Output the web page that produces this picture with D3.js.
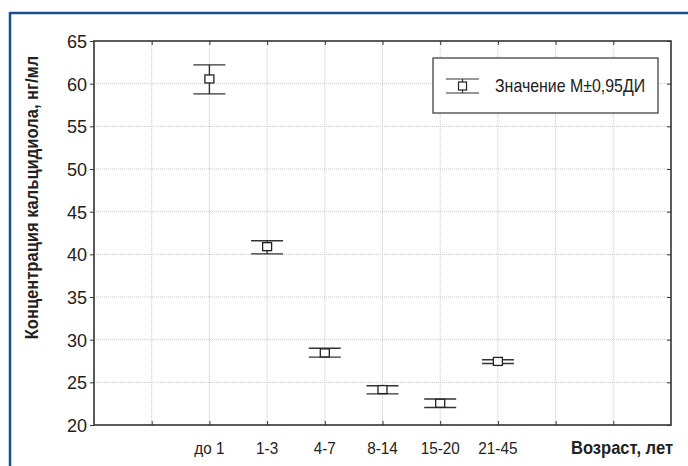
<!DOCTYPE html>
<html>
<head>
<meta charset="utf-8">
<script src="https://cdn.jsdelivr.net/npm/d3@7"></script>
<style>
  body { margin: 0; background: #fff; }
  svg text { font-family: "Liberation Sans", Arial, sans-serif; fill: #222; }
</style>
</head>
<body>
<div id="chart"></div>
<script>
// age groups and calcidiol values (ng/ml): mean with 95% CI
const groups = ["до 1", "1-3", "4-7", "8-14", "15-20", "21-45"];
const means  = [60.55, 40.9, 28.45, 24.15, 22.55, 27.45];
const lower  = [58.8, 40.05, 27.95, 23.65, 22.05, 27.2];
const upper  = [62.2, 41.6, 29.0, 24.6, 23.05, 27.65];
const yTicks = [20, 25, 30, 35, 40, 45, 50, 55, 60, 65];

const w = 688, h = 466;
const margin = { top: 41, right: 17, bottom: 41, left: 94 };

const svg = d3.select("#chart").append("svg")
  .attr("width", w)
  .attr("height", h);

// narrow text: place at (tx,ty) and squeeze horizontally
function label(parent, tx, ty, txt, size, k, anchor, rot) {
  return parent.append("text")
    .attr("transform", `translate(${tx},${ty}) rotate(${rot || 0}) scale(${k},1)`)
    .attr("text-anchor", anchor || "start")
    .attr("font-size", size)
    .text(txt);
}

// blue frame
const blue = "#1c4f90";
svg.append("line").attr("x1", 10).attr("x2", w).attr("y1", 13).attr("y2", 13).attr("stroke", blue).attr("stroke-width", 2.5);
svg.append("line").attr("x1", 10).attr("x2", 10).attr("y1", 12).attr("y2", h).attr("stroke", blue).attr("stroke-width", 2.5);

// categories sit on positions 2..7 of an 0..10 axis
const x = d3.scaleLinear().domain([0, 10]).range([margin.left, w - margin.right]),
      y = d3.scaleLinear().domain([20, 65]).range([h - margin.bottom, margin.top]);
const xPos = (d, i) => x(i + 2);

// grid
svg.append("g").selectAll("line")
  .data(d3.range(1, 10))
  .enter().append("line")
  .attr("x1", d => x(d)).attr("x2", d => x(d))
  .attr("y1", y(20)).attr("y2", y(65))
  .attr("stroke", "#c8c8c8").attr("stroke-dasharray", "1,1");
svg.append("g").selectAll("line")
  .data(yTicks.slice(1, -1))
  .enter().append("line")
  .attr("x1", x(0)).attr("x2", x(10))
  .attr("y1", d => y(d)).attr("y2", d => y(d))
  .attr("stroke", "#c8c8c8").attr("stroke-dasharray", "1,1");

// axes: left with labels, others as frame with inner ticks
svg.append("g").attr("transform", `translate(${x(0)},0)`)
  .call(d3.axisLeft(y).tickValues(yTicks).tickSize(4).tickPadding(3))
  .call(g => g.select(".domain").remove())
  .call(g => g.selectAll("line").attr("stroke", "#333"))
  .call(g => g.selectAll("text").attr("font-size", 18).attr("font-family", "Liberation Sans").attr("dy", "0.36em"));

svg.append("g").attr("transform", `translate(${x(10)},0)`)
  .call(d3.axisLeft(y).tickValues(yTicks).tickSize(4).tickFormat(""))
  .call(g => g.select(".domain").remove())
  .call(g => g.selectAll("line").attr("stroke", "#333"));

svg.append("g").attr("transform", `translate(0,${y(20)})`)
  .call(d3.axisBottom(x).tickValues(d3.range(1, 10)).tickSize(-4).tickFormat(""))
  .call(g => g.select(".domain").remove())
  .call(g => g.selectAll("line").attr("stroke", "#333"));

svg.append("g").attr("transform", `translate(0,${y(65)})`)
  .call(d3.axisTop(x).tickValues(d3.range(1, 10)).tickSize(-4).tickFormat(""))
  .call(g => g.select(".domain").remove())
  .call(g => g.selectAll("line").attr("stroke", "#333"));

svg.append("rect")
  .attr("x", x(0)).attr("y", y(65))
  .attr("width", x(10) - x(0)).attr("height", y(20) - y(65))
  .attr("fill", "none").attr("stroke", "#333").attr("stroke-width", 1.6);

// category labels
const xl = svg.append("g");
groups.forEach((g, i) => label(xl, xPos(g, i), h - 12, g, 17, 0.9, "middle"));

// axis titles
label(svg, w - 15, h - 12, "Возраст, лет", 18, 0.92, "end").attr("font-weight", "bold");
label(svg, 38, 197.5, "Концентрация кальцидиола, нг/мл", 18, 0.92, "middle", -90).attr("font-weight", "bold");

// whiskers
const cap = 32;
const marks = svg.append("g").selectAll("g")
  .data(groups)
  .enter().append("g");
marks.append("line")
  .attr("x1", xPos).attr("x2", xPos)
  .attr("y1", (d, i) => y(upper[i])).attr("y2", (d, i) => y(lower[i]))
  .attr("stroke", "#333").attr("stroke-width", 1.4);
marks.append("line")
  .attr("x1", (d, i) => xPos(d, i) - cap / 2).attr("x2", (d, i) => xPos(d, i) + cap / 2)
  .attr("y1", (d, i) => y(upper[i])).attr("y2", (d, i) => y(upper[i]))
  .attr("stroke", "#333").attr("stroke-width", 1.4);
marks.append("line")
  .attr("x1", (d, i) => xPos(d, i) - cap / 2).attr("x2", (d, i) => xPos(d, i) + cap / 2)
  .attr("y1", (d, i) => y(lower[i])).attr("y2", (d, i) => y(lower[i]))
  .attr("stroke", "#333").attr("stroke-width", 1.4);
marks.append("rect")
  .attr("x", (d, i) => xPos(d, i) - 4.5).attr("y", (d, i) => y(means[i]) - 4)
  .attr("width", 9).attr("height", 8)
  .attr("fill", "#fff").attr("stroke", "#222").attr("stroke-width", 1.3);

// legend
const legend = svg.append("g").attr("transform", "translate(433,58)");
legend.append("rect").attr("width", 225).attr("height", 55)
  .attr("fill", "#fff").attr("stroke", "#333").attr("stroke-width", 1.2);
legend.append("line").attr("x1", 13).attr("x2", 46).attr("y1", 21).attr("y2", 21).attr("stroke", "#333").attr("stroke-width", 1.2);
legend.append("line").attr("x1", 13).attr("x2", 46).attr("y1", 35).attr("y2", 35).attr("stroke", "#333").attr("stroke-width", 1.2);
legend.append("line").attr("x1", 29.5).attr("x2", 29.5).attr("y1", 21).attr("y2", 35).attr("stroke", "#333").attr("stroke-width", 1.2);
legend.append("rect").attr("x", 25.5).attr("y", 24).attr("width", 8).attr("height", 8)
  .attr("fill", "#fff").attr("stroke", "#222").attr("stroke-width", 1.2);
label(legend, 62, 34, "Значение М±0,95ДИ", 17.5, 0.91);
</script>
</body>
</html>
